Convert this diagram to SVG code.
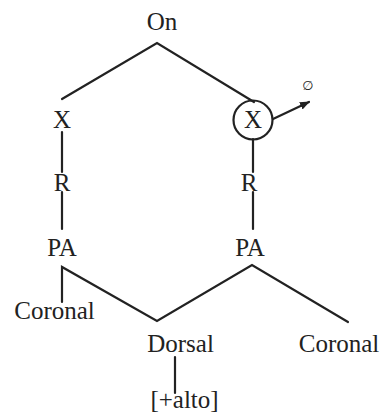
<svg xmlns="http://www.w3.org/2000/svg" width="383" height="415" viewBox="0 0 383 415">
<style>
text{font-family:"Liberation Serif","Times New Roman",serif;font-size:25px;fill:#222;text-anchor:middle}
.ln{stroke:#222;stroke-width:2.2;fill:none;stroke-linecap:round;stroke-linejoin:miter}
</style>
<defs>
<marker id="ah" markerWidth="10" markerHeight="10" refX="9" refY="5" orient="auto" markerUnits="userSpaceOnUse">
<path d="M0,1 L10,5 L0,9 Z" fill="#222"/>
</marker>
</defs>
<rect width="383" height="415" fill="#fff"/>
<g id="connectors">
<polyline class="ln" points="62,99 157,43 254,102"/>
<line class="ln" x1="62" y1="132" x2="62" y2="172"/>
<line class="ln" x1="62" y1="192" x2="62" y2="229"/>
<line class="ln" x1="253" y1="139" x2="253" y2="172"/>
<line class="ln" x1="253" y1="192" x2="253" y2="229"/>
<polyline class="ln" points="62,302 62,267 157,321 252,265 348,322"/>
<line class="ln" x1="175" y1="357" x2="175" y2="393"/>
<line class="ln" x1="273" y1="119" x2="309" y2="102" marker-end="url(#ah)"/>
</g>
<g id="On"><text x="162" y="30">On</text></g>
<g id="X1"><text x="62" y="128">X</text></g>
<g id="X2"><circle cx="253" cy="120" r="19.5" class="ln"/><text x="253" y="128">X</text></g>
<g id="null"><text x="308" y="90" style="font-size:13px;font-family:'DejaVu Sans',sans-serif">∅</text></g>
<g id="R1"><text x="62" y="191">R</text></g>
<g id="R2"><text x="249" y="191">R</text></g>
<g id="PA1"><text x="62" y="256">PA</text></g>
<g id="PA2"><text x="250" y="256">PA</text></g>
<g id="Coronal1"><text x="54.5" y="319">Coronal</text></g>
<g id="Dorsal"><text x="180.5" y="352">Dorsal</text></g>
<g id="Coronal2"><text x="339" y="352">Coronal</text></g>
<g id="alto"><text x="184.5" y="408">[+alto]</text></g>
</svg>
